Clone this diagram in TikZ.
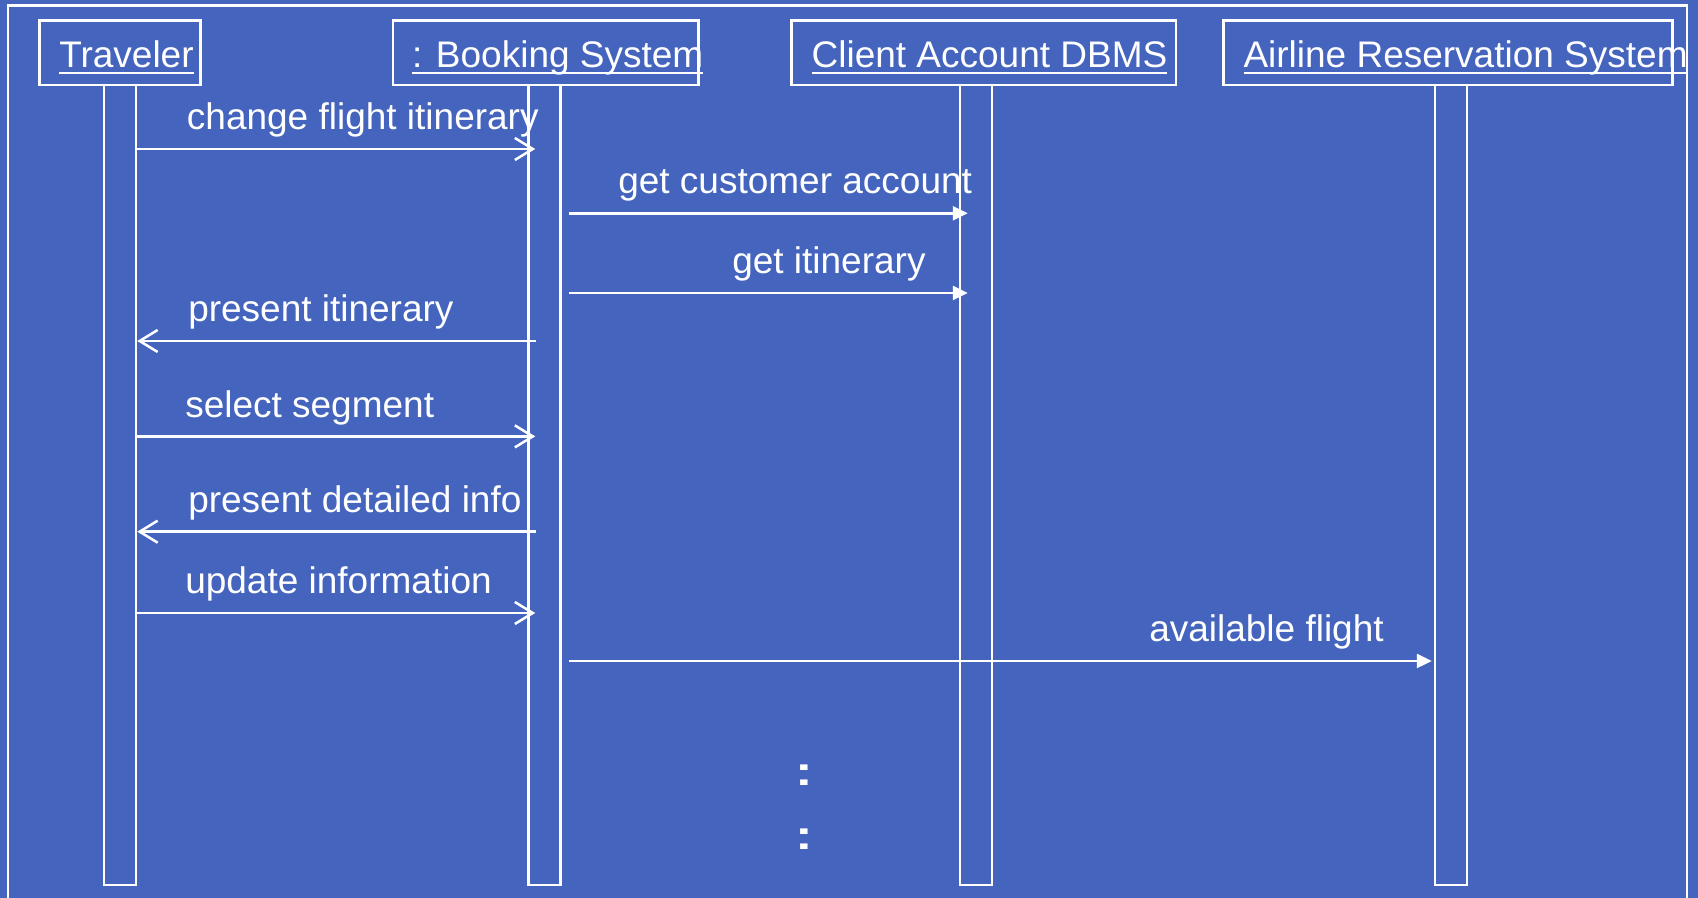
\documentclass[tikz,border=0pt]{standalone}
\usepackage{graphicx}
\usepackage{fontspec}
\setmainfont{Liberation Sans}
\usetikzlibrary{arrows.meta,calc}
\definecolor{slideblue}{RGB}{68,100,190}
% underline at a fixed depth below the baseline, through descenders
\newcommand{\ulword}[1]{\setbox0\hbox{#1}\rlap{\rule[-0.62mm]{\wd0}{0.25mm}}\box0}
\begin{document}
\begin{tikzpicture}[x=0.1mm,y=-0.1mm,line width=0.25mm,
  every node/.style={text=white},
  head/.style={draw=white,minimum height=6.43mm,inner sep=0},
  lifebar/.style={draw=white,minimum width=3.2mm,minimum height=80mm,inner sep=0},
  lbl/.style={anchor=base west,inner sep=0,font=\fontsize{3.7mm}{4.4mm}\selectfont},
  syncmsg/.style={draw=white,-{Triangle[length=1.5mm,width=1.4mm]}},
  callmsg/.style={draw=white,-{Straight Barb[length=1.8mm,width=2.2mm]}},
  retmsg/.style={draw=white,{Straight Barb[length=1.8mm,width=2.2mm]}-},
  ellip/.style={anchor=base,inner sep=0,font=\bfseries\fontsize{5.3mm}{6mm}\selectfont}]

\fill[slideblue] (0,0) rectangle (1698,898);
\useasboundingbox (0,0) rectangle (1698,898);

% frame, open at the bottom
\draw[white] (8,900) -- (8,5.5) -- (1687,5.5) -- (1687,900);

% object heads
\node[head,minimum width=16.14mm] (h1) at (120,52.85) {};
\node[head,minimum width=30.55mm] (h2) at (545.75,52.85) {};
\node[head,minimum width=38.44mm] (h3) at (983.8,52.85) {};
\node[head,minimum width=44.90mm] (h4) at (1448,52.85) {};
\node[lbl] (n1) at ($(h1.south west)+(20,-18.3)$) {\ulword{Traveler}};
\node[lbl] (n2) at ($(h2.south west)+(19,-18.3)$) {\ulword{: Booking System}};
\node[lbl] (n3) at ($(h3.south west)+(20,-18.3)$) {\ulword{Client Account DBMS}};
\node[lbl] (n4) at ($(h4.south west)+(20,-18.3)$) {\ulword{Airline Reservation System}};

% activation bars
\node[lifebar] (b1) at (120,485) {};
\node[lifebar] (b2) at (544.5,485) {};
\node[lifebar] (b3) at (976,485) {};
\node[lifebar] (b4) at (1451,485) {};

% message rows
\coordinate (r1) at (0,149);
\coordinate (r2) at (0,213.3);
\coordinate (r3) at (0,293);
\coordinate (r4) at (0,341);
\coordinate (r5) at (0,436.4);
\coordinate (r6) at (0,531.7);
\coordinate (r7) at (0,613);
\coordinate (r8) at (0,661);

\draw[callmsg] (b1.east |- r1) -- ($(b2.west |- r1)+(8,0)$);
\node[lbl] (m1) at (185.7,130) {change flight itinerary};

\draw[syncmsg] ($(b2.east |- r2)+(7,0)$) -- ($(b3.west |- r2)+(9,0)$);
\node[lbl] (m2) at (617,194) {get customer account};

\draw[syncmsg] ($(b2.east |- r3)+(7,0)$) -- ($(b3.west |- r3)+(9,0)$);
\node[lbl] (m3) at (731,274) {get itinerary};

\draw[retmsg] (b1.east |- r4) -- ($(b2.west |- r4)+(9,0)$);
\node[lbl] (m4) at (187,322) {present itinerary};

\draw[callmsg] (b1.east |- r5) -- ($(b2.west |- r5)+(8,0)$);
\node[lbl] (m5) at (184,417.4) {select segment};

\draw[retmsg] (b1.east |- r6) -- ($(b2.west |- r6)+(9,0)$);
\node[lbl] (m6) at (187,512.7) {present detailed info};

\draw[callmsg] (b1.east |- r7) -- ($(b2.west |- r7)+(8,0)$);
\node[lbl] (m7) at (184,594) {update information};

\draw[syncmsg] ($(b2.east |- r8)+(7,0)$) -- ($(b4.west |- r8)+(-2,0)$);
\node[lbl] (m8) at (1148,642) {available flight};

% continuation marks
\node[ellip] (d1) at (804,786) {\scalebox{1}[0.77]{:}};
\node[ellip] (d2) at (804,850) {\scalebox{1}[0.77]{:}};
\end{tikzpicture}
\end{document}
